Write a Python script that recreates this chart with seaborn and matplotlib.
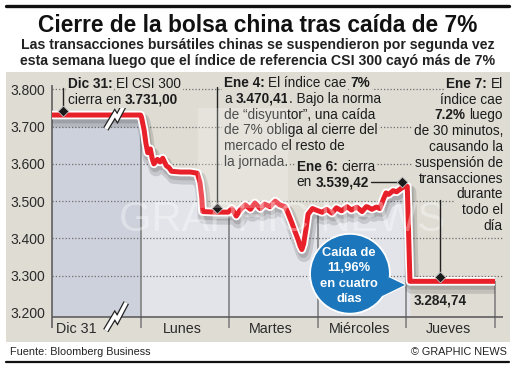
import numpy as np
import pandas as pd
import matplotlib.pyplot as plt
import matplotlib.patheffects as pe
from matplotlib.patches import Rectangle, Ellipse, Polygon
from matplotlib.lines import Line2D
from matplotlib import font_manager
import seaborn as sns

# --- data (x in trading-day units: Dic 31 = 0..1, Lunes = 1..2, ...) ---
dic31_t = [0.0, 1.0]
dic31_v = [3731.00, 3731.00]

lunes_t = [1.01, 1.04, 1.06, 1.08, 1.11, 1.13, 1.15, 1.19, 1.22, 1.25, 1.29,
           1.32, 1.35, 1.45, 1.56, 1.64, 1.67, 1.69, 1.70, 1.84, 1.99]
lunes_v = [3725, 3690, 3655, 3630, 3640, 3615, 3600, 3612, 3605, 3615, 3595,
           3590, 3580, 3578, 3578, 3575, 3550, 3510, 3472, 3470.41, 3470.41]

martes_t = [2.03, 2.08, 2.12, 2.18, 2.24, 2.29, 2.35, 2.40, 2.46, 2.52, 2.57,
            2.63, 2.66, 2.71, 2.74, 2.78, 2.80, 2.82, 2.84, 2.87, 2.89, 2.94, 2.99]
martes_v = [3480, 3460, 3475, 3490, 3478, 3495, 3480, 3492, 3485, 3500, 3490,
            3485, 3470, 3440, 3420, 3395, 3380, 3370, 3385, 3430, 3465, 3480, 3475]

miercoles_t = [3.05, 3.10, 3.16, 3.21, 3.27, 3.33, 3.38, 3.44, 3.50, 3.55,
               3.61, 3.66, 3.70, 3.74, 3.77, 3.80, 3.85, 3.89, 3.94, 3.98]
miercoles_v = [3470, 3478, 3468, 3482, 3474, 3485, 3476, 3484, 3472, 3486,
               3478, 3484, 3480, 3505, 3522, 3518, 3528, 3525, 3534, 3539.42]

jueves_t = [4.01, 4.04, 5.01]
jueves_v = [3539.42, 3284.74, 3284.74]

day_labels = ["Dic 31", "Lunes", "Martes", "Miércoles", "Jueves"]
day_label_pos = [0.27, 1.47, 2.47, 3.47, 4.47]
y_ticks = [3200, 3300, 3400, 3500, 3600, 3700, 3800]
y_labels = ["3.200", "3.300", "3.400", "3.500", "3.600", "3.700", "3.800"]

# diamonds on the closes that the notes point at
key_t = [0.12, 1.86, 3.95, 4.38]
key_v = [3731.00, 3470.41, 3539.42, 3284.74]

title = "Cierre de la bolsa china tras caída de 7%"
subtitle = ["Las transacciones bursátiles chinas se suspendieron por segunda vez",
            "esta semana luego que el índice de referencia CSI 300 cayó más de 7%"]
note_dic31 = ["**Dic 31:** El CSI 300", "cierra en **3.731,00**"]
note_ene4 = ["**Ene 4:** El índice cae **7%**", "a **3.470,41**. Bajo la norma",
             "de “disyuntor”, una caída", "de 7% obliga al cierre del",
             "mercado el resto de", "la jornada."]
note_ene6 = ["**Ene 6:** cierra", "en **3.539,42**"]
note_ene7 = ["**Ene 7:** El", "índice cae", "**7.2%** luego", "de 30 minutos,",
             "causando la", "suspensión de", "transacciones", "durante",
             "todo el", "día"]
bubble_lines = ["Caída de", "11,96%", "en cuatro", "días"]
last_label = "3.284,74"

df = pd.DataFrame({
    "t": dic31_t + lunes_t + martes_t + miercoles_t + jueves_t,
    "v": dic31_v + lunes_v + martes_v + miercoles_v + jueves_v,
})

sns.set_theme(style="white")
plt.rcParams['font.family'] = ['Liberation Sans', 'DejaVu Sans']

PANEL = '#dedcd3'
DARK_FILL = '#cdd1db'
LIGHT_FILL = '#e3e4ea'
RED = '#e8202a'
INK = '#1c1c1c'
BLUE = '#1b76bb'

W, H = 515, 366
fig = plt.figure(figsize=(W / 100, H / 100), dpi=100)
fig.patch.set_facecolor('white')


def fx(px):
    return px / W


def fy(py):
    return 1 - py / H


fig.add_artist(Rectangle((fx(6), fy(342)), (504) / W, 270 / H, transform=fig.transFigure,
                         fc=PANEL, ec='none', zorder=-5))
fig.add_artist(Line2D([fx(6), fx(509)], [fy(5.5), fy(5.5)], color='#111', lw=2.4,
                      solid_capstyle='round'))
fig.add_artist(Line2D([fx(6), fx(509)], [fy(362), fy(362)], color='#111', lw=1.6,
                      solid_capstyle='round'))

YMIN, YMAX = 3189, 3825
ax = fig.add_axes([fx(52), fy(317), 443 / W, 237 / H])
ax.set_facecolor('none')
ax.set_xlim(0, 5)
ax.set_ylim(YMIN, YMAX)
for s in ax.spines.values():
    s.set_visible(False)
sx = 443 / 5               # px per day
sy = 237 / (YMAX - YMIN)   # px per index point
step = 15.8 / sy           # one text line in data units
below = YMIN - 11 / sy

# shaded area under the line
t = df["t"].to_numpy()
v = df["v"].to_numpy()
ax.fill_between(t, v, YMIN, where=t <= 1.0, color=DARK_FILL, lw=0, zorder=1)
ax.fill_between(t, v, YMIN, where=(t >= 1.0) & (t <= 5.0), color=LIGHT_FILL, lw=0, zorder=1)

# dotted grid
ax.hlines(y_ticks[1:], 0, 5.09, colors='#6e6e6e', linestyles=(0, (1, 1.6)), lw=0.9,
          zorder=2, clip_on=False)

# day separators and axes
for d in [1, 2, 3, 4, 5]:
    ax.vlines(d, below, np.interp(d, t, v), colors='#7a7a7a', lw=1.1, zorder=2.5, clip_on=False)
ax.vlines(0, below, 3812, colors='#555', lw=1.1, zorder=2.5, clip_on=False)
ax.hlines(YMIN, 0, 5.09, colors='#555', lw=1.1, zorder=2.5, clip_on=False)

# watermark
ax.text(2.6, 3450, "GRAPHIC NEWS", ha='center', va='center', fontsize=30,
        color='white', alpha=0.35, zorder=4.5)

# main line
sns.lineplot(data=df, x="t", y="v", ax=ax, color=RED, lw=3.6, sort=False, estimator=None,
             zorder=4, solid_capstyle='round', solid_joinstyle='round',
             path_effects=[pe.SimpleLineShadow(offset=(1.5, -4), shadow_color='#444',
                                               alpha=0.18, linewidth=10),
                           pe.SimpleLineShadow(offset=(1, -2.5), shadow_color='#444',
                                               alpha=0.2, linewidth=7),
                           pe.Stroke(linewidth=6.2, foreground='white'), pe.Normal()])
ax.set_xlabel('')
ax.set_ylabel('')


def bolt(x0, y0):
    px = np.array([-10, -1, 1.5, 10.5])
    py = np.array([-14, 1, -3, 14])
    xs = x0 + px / sx
    ys = y0 + py / sy
    ax.plot(xs, ys, color='#222', lw=4.4, zorder=5.5, clip_on=False,
            solid_joinstyle='miter', solid_capstyle='butt')
    ax.plot(xs, ys, color='white', lw=2.6, zorder=5.6, clip_on=False,
            solid_joinstyle='miter', solid_capstyle='butt')


bolt(0.72, 3731)
bolt(0.72, YMIN + 1)

# ticks
ax.set_yticks(y_ticks)
ax.set_yticklabels(y_labels)
ax.set_xticks(day_label_pos)
ax.set_xticklabels(day_labels)
ax.tick_params(axis='y', length=0, pad=5, labelsize=10, labelcolor='#2a2a2a')
ax.tick_params(axis='x', length=0, pad=3.5, labelsize=10.3, labelcolor='#2a2a2a')


def rich_line(x, y, line, size=9.8, ha='left', color=INK, box=True, zorder=6):
    pieces = line.split('**')
    segs = []
    trail = False
    for i, p in enumerate(pieces):
        if not p:
            continue
        segs.append((p.strip(), i % 2 == 1, p.startswith(' ') or trail))
        trail = p.endswith(' ')
    kw = dict(fontsize=size, color=color, zorder=zorder, va='center')
    if box:
        kw['bbox'] = dict(boxstyle='square,pad=0.12', fc=PANEL, ec='none')
    space = 0.278 * size
    prev = None
    prev_gap = False
    order = segs if ha == 'left' else segs[::-1]
    for text, bold, gap in order:
        w = 'bold' if bold else 'normal'
        if prev is None:
            prev = ax.text(x, y, text, ha=ha, fontweight=w, clip_on=False, **kw)
        elif ha == 'left':
            prev = ax.annotate(text, xy=(1, 0.5), xycoords=prev,
                               xytext=(space if gap else 0, 0), textcoords='offset points',
                               ha='left', fontweight=w, **kw)
        else:
            prev = ax.annotate(text, xy=(0, 0.5), xycoords=prev,
                               xytext=(-space if prev_gap else 0, 0), textcoords='offset points',
                               ha='right', fontweight=w, **kw)
        prev_gap = gap


for i, ln in enumerate(note_dic31):
    rich_line(0.18, 3815 - i * step, ln)
for i, ln in enumerate(note_ene4):
    rich_line(1.94, 3817 - i * step, ln)
for i, ln in enumerate(note_ene6):
    rich_line(2.76, 3591 - i * step * 0.95, ln)
for i, ln in enumerate(note_ene7):
    rich_line(5.09, 3815 - i * step, ln, ha='right')

# pointers and diamonds
dy = 4 / sy
ax.plot([key_t[0]] * 2, [3804, key_v[0] + dy], color='#222', lw=1, zorder=5)
ax.plot([key_t[1]] * 2, [3807, key_v[1] + dy], color='#222', lw=1, zorder=5)
ax.plot([3.60, key_t[2]], [key_v[2] + dy] * 2, color='#222', lw=1, zorder=5)
ax.plot([key_t[3]] * 2, [3503, key_v[3] + dy], color='#222', lw=1, zorder=5)
ax.scatter(key_t, [k + dy for k in key_v], marker='D', s=30, color='#1a1a1a',
           edgecolor='#bbbbbb', linewidth=0.6, zorder=5.2)

ax.text(key_t[3], 3232, last_label, ha='center', va='center', fontsize=9.8,
        fontweight='bold', color='#222', zorder=6)

# watermark logo block over the Ene 4 note
ax.add_patch(Rectangle((1.65, 3482), 1.01, 268, fc='white', ec='none', alpha=0.22, zorder=7))

# callout bubble
bx, by, r = 3.363, 3305, 39
ang = np.deg2rad([-5, -35])
tail = [(bx + r * np.cos(ang[0]) / sx, by + r * np.sin(ang[0]) / sy),
        (3.984, 3275),
        (bx + r * np.cos(ang[1]) / sx, by + r * np.sin(ang[1]) / sy)]
ax.add_patch(Ellipse((bx, by), 2 * r / sx, 2 * r / sy, fc=BLUE, ec='white', lw=2.6, zorder=6))
ax.add_patch(Polygon(tail, closed=True, fc=BLUE, ec='white', lw=1.6, zorder=6.1))
ax.add_patch(Ellipse((bx, by), 2 * r / sx, 2 * r / sy, fc=BLUE, ec='none', zorder=6.2))
ax.add_patch(Polygon(tail, closed=True, fc=BLUE, ec='none', zorder=6.3))
for i, ln in enumerate(bubble_lines):
    ax.text(bx - 0.01, 3361 - i * step * 0.98, ln, ha='center', va='center', fontsize=9.3,
            fontweight='bold', color='white', zorder=6.5)


# header / footer
def have(name):
    try:
        font_manager.findfont(font_manager.FontProperties(family=name), fallback_to_default=False)
        return True
    except ValueError:
        return False


tfam = ['Liberation Sans Narrow', 'Liberation Sans'] if have('Liberation Sans Narrow') else ['Liberation Sans']
tt = fig.text(fx(258), fy(32), title, ha='center', va='baseline', fontsize=18,
              fontweight='bold', family=tfam, color='#111')
st = [fig.text(fx(258), fy(49 + i * 15.5), s, ha='center', va='baseline', fontsize=10,
               fontweight='bold', color='#222') for i, s in enumerate(subtitle)]
fig.text(fx(10), fy(352), "Fuente: Bloomberg Business", ha='left', va='center',
         fontsize=7.8, color='#222')
fig.text(fx(507), fy(352), "© GRAPHIC NEWS", ha='right', va='center', fontsize=7.8, color='#222')

renderer = fig.canvas.get_renderer()


def fit(txt, target):
    w = txt.get_window_extent(renderer).width
    txt.set_fontsize(txt.get_fontsize() * target / w)


fit(tt, 440)
fit(st[0], 474)
st[1].set_fontsize(st[0].get_fontsize())

fig.savefig('out.png', dpi=100)
